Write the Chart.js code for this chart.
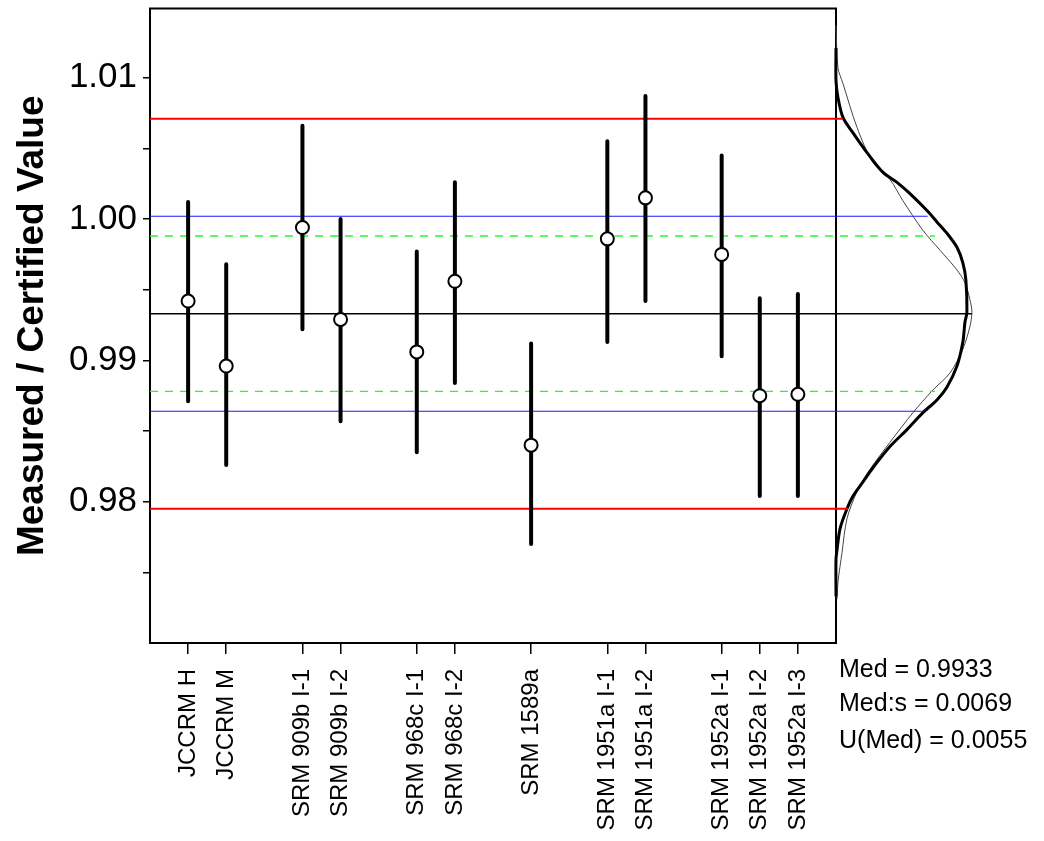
<!DOCTYPE html>
<html><head><meta charset="utf-8">
<script src="https://cdn.jsdelivr.net/npm/chart.js@4.4.1/dist/chart.umd.min.js"></script>
<style>html,body{margin:0;padding:0;background:#fff}</style>
</head><body><canvas id="c" width="1044" height="841"></canvas>
<script>
// ---- data ----
const categories = ['JCCRM H','JCCRM M','SRM 909b I-1','SRM 909b I-2','SRM 968c I-1','SRM 968c I-2','SRM 1589a','SRM 1951a I-1','SRM 1951a I-2','SRM 1952a I-1','SRM 1952a I-2','SRM 1952a I-3'];
const xPositions = [0,1,3,4,6,7,9,11,12,14,15,16];
const means  = [0.9942,0.9896,0.9994,0.9929,0.9906,0.9956,0.9840,0.9986,1.0015,0.9975,0.9875,0.9876];
const lowers = [0.9871,0.9826,0.9922,0.9857,0.9835,0.9884,0.9770,0.9913,0.9942,0.9903,0.9804,0.9804];
const uppers = [1.0012,0.9968,1.0066,1.0000,0.9977,1.0026,0.9912,1.0055,1.0087,1.0045,0.9944,0.9947];
const yMajorTicks = [0.98,0.99,1.00,1.01];
const yMinorTicks = [0.975,0.985,0.995,1.005];
// reference levels: Med+2s, Med+s, Med+U, Med, Med-U, Med-s, Med-2s
const refValues = [1.0071,1.0002,0.9988,0.9933,0.9878,0.9864,0.9795];
const refEnds   = [0.053,0.70,0.756,1.038,0.756,0.664,0.092]; // relative density where each line meets the curve
const refKinds  = ['red','blue','green','black','green','blue','red'];
// density curves (value, relative density)
const thickCurveY = [1.0121,1.0098,1.0086,1.0072,1.0061,1.0047,1.0033,1.0026,1.0018,1.0006,0.9998,0.9990,0.9980,0.9969,0.9957,0.9934,0.9927,0.9913,0.9896,0.9881,0.9872,0.9863,0.9851,0.9839,0.9824,0.9814,0.9804,0.9795,0.9781,0.9766,0.9759,0.9733];
const thickCurveD = [0,0,0.015,0.053,0.13,0.237,0.359,0.466,0.565,0.695,0.771,0.847,0.924,0.969,0.992,1.0,0.985,0.969,0.924,0.847,0.771,0.664,0.542,0.412,0.282,0.206,0.13,0.084,0.031,0.008,0,0];
const thinCurveY = [1.0137,1.0107,1.0096,1.0065,1.0040,1.0028,1.0013,0.9992,0.9978,0.9964,0.9955,0.9943,0.9934,0.9924,0.9908,0.9891,0.9879,0.9863,0.9842,0.9823,0.9807,0.9788,0.9764,0.9743,0.9731];
const thinCurveD = [0,0.015,0.053,0.16,0.282,0.412,0.511,0.664,0.794,0.924,0.985,1.023,1.038,1.023,0.969,0.87,0.74,0.588,0.412,0.26,0.16,0.084,0.046,0.015,0.008];
const statsLines = ['Med = 0.9933','Med:s = 0.0069','U(Med) = 0.0055'];
const yTitle = 'Measured / Certified Value';

// ---- build ----
const FONT = '"Liberation Sans", Arial, sans-serif';
const refStyle = {
  red:   {color:'#ff0000', width:2, dash:[]},
  blue:  {color:'#1a1aff', width:1.2, dash:[]},
  green: {color:'#22ff22', width:1.3, dash:[8,7]},
  black: {color:'#000000', width:1.5, dash:[]}
};
const DENS_MIN = -5.24; // density-axis left bound (frame left)

const barData = [];
xPositions.forEach((x,i)=>{ barData.push({x, y:lowers[i]},{x, y:uppers[i]},{x, y:null}); });
const pointData = xPositions.map((x,i)=>({x, y:means[i]}));

const datasets = [
  {type:'line', data:pointData, xAxisID:'x', showLine:false, pointRadius:6.5, pointBackgroundColor:'#fff', pointBorderColor:'#000', pointBorderWidth:2, pointHoverRadius:6.5},
  {type:'line', data:barData, xAxisID:'x', borderColor:'#000', borderWidth:4, pointRadius:0, spanGaps:false, borderCapStyle:'round', tension:0}
];
refValues.forEach((v,i)=>{
  const s = refStyle[refKinds[i]];
  datasets.push({type:'line', xAxisID:'x2', data:[{x:DENS_MIN,y:v},{x:refEnds[i],y:v}], borderColor:s.color, borderWidth:s.width, borderDash:s.dash, pointRadius:0, clip:false, tension:0});
});
datasets.push({type:'line', xAxisID:'x2', data:thickCurveY.map((y,i)=>({x:thickCurveD[i], y})), borderColor:'#000', borderWidth:3, pointRadius:0, clip:false, tension:0.3});
datasets.push({type:'line', xAxisID:'x2', data:thinCurveY.map((y,i)=>({x:thinCurveD[i], y})), borderColor:'#444', borderWidth:1, pointRadius:0, clip:false, tension:0.3});

const framePlugin = {
  id:'frame',
  beforeDatasetsDraw(chart){
    const {ctx, chartArea:a} = chart;
    ctx.save(); ctx.strokeStyle='#000'; ctx.lineWidth=2;
    ctx.strokeRect(a.left, a.top, a.right-a.left, a.bottom-a.top);
    ctx.restore();
  },
  afterDraw(chart){
    const {ctx, chartArea:a} = chart;
    ctx.save(); ctx.fillStyle='#000'; ctx.font='25px '+FONT; ctx.textAlign='left'; ctx.textBaseline='alphabetic';
    const offs=[34,68,105];
    statsLines.forEach((t,i)=>ctx.fillText(t, a.right+3, a.bottom+offs[i]));
    ctx.restore();
  }
};

new Chart(document.getElementById('c'), {
  data:{datasets},
  options:{
    responsive:false, animation:false, devicePixelRatio:1,
    layout:{padding:{top:8,right:208,bottom:0,left:0}},
    plugins:{legend:{display:false}, tooltip:{enabled:false}},
    events:[],
    scales:{
      x:{type:'linear', min:-1, max:17, position:'bottom',
        border:{display:false},
        grid:{drawOnChartArea:false, drawTicks:true, tickLength:11, color:'#000', lineWidth:1.5},
        afterBuildTicks(s){ s.ticks = xPositions.map(v=>({value:v})); },
        afterFit(s){ s.height = 198; s.paddingLeft=0; s.paddingRight=0; },
        ticks:{autoSkip:false, minRotation:90, maxRotation:90, padding:15, color:'#000', font:{family:FONT, size:24},
          callback(v){ const i=xPositions.indexOf(v); return i>=0?categories[i]:''; }}
      },
      x2:{type:'linear', min:DENS_MIN, max:0, display:false},
      y:{type:'linear', min:0.97, max:1.0149, position:'left',
        border:{display:false},
        grid:{drawOnChartArea:false, drawTicks:true, tickLength:7, color:'#000', lineWidth:1.5},
        afterBuildTicks(s){ s.ticks = yMinorTicks.concat(yMajorTicks).sort((a,b)=>a-b).map(v=>({value:v})); },
        afterFit(s){ s.width = 150; s.paddingTop=0; s.paddingBottom=0; },
        ticks:{padding:6, color:'#000', font:{family:FONT, size:35},
          callback(v){ return yMajorTicks.some(m=>Math.abs(m-v)<1e-9) ? v.toFixed(2) : ''; }},
        title:{display:true, text:yTitle, color:'#000', font:{family:FONT, size:37, weight:'bold', lineHeight:1.2}, padding:{top:11,bottom:0}}
      }
    }
  },
  plugins:[framePlugin]
});
</script></body></html>
